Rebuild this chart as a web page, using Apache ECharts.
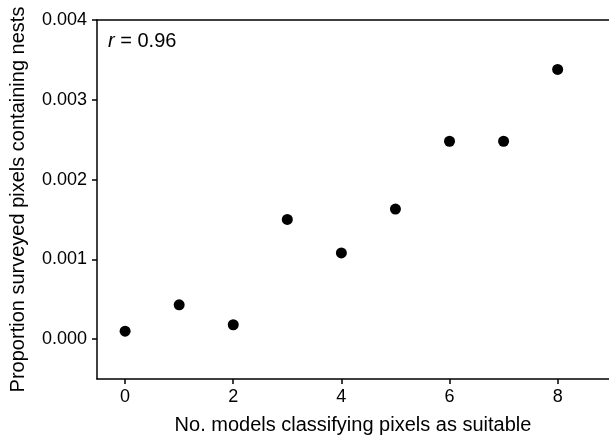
<!DOCTYPE html>
<html>
<head>
<meta charset="utf-8">
<title></title>
<script src="https://cdn.jsdelivr.net/npm/echarts@6/dist/echarts.min.js"></script>
<style>
  html, body { margin: 0; padding: 0; background: #fff; }
  #main { width: 609px; height: 440px; }
</style>
</head>
<body>
<div id="main"></div>
<script>
// number of models classifying pixel as suitable
var models = [0, 1, 2, 3, 4, 5, 6, 7, 8];
// proportion of surveyed pixels containing nests
var proportion = [0.0001, 0.00043, 0.00018, 0.0015, 0.00108, 0.00163, 0.00248, 0.00248, 0.00338];
var xTicks = [0, 2, 4, 6, 8];
var yTicks = [0, 0.001, 0.002, 0.003, 0.004];

var font = 'Liberation Sans';
var pts = models.map(function (m, i) { return [m, proportion[i]]; });

var myChart = echarts.init(document.getElementById('main'));
myChart.setOption({
  animation: false,
  backgroundColor: '#fff',
  grid: { left: 97, right: 0, top: 20, bottom: 60 },
  xAxis: [{
    type: 'value',
    min: -0.52,
    max: 8.95,
    name: 'No. models classifying pixels as suitable',
    nameLocation: 'middle',
    nameGap: 36,
    nameTextStyle: { fontFamily: font, fontSize: 20, color: '#000' },
    axisLine: { show: true, onZero: false, lineStyle: { color: '#000', width: 1.5 } },
    axisTick: { show: true, length: 5, customValues: xTicks, lineStyle: { color: '#000', width: 1.5 } },
    axisLabel: { customValues: xTicks, margin: 9, fontFamily: font, fontSize: 18, color: '#000' },
    splitLine: { show: false }
  }, {
    type: 'value',
    position: 'top',
    min: -0.52,
    max: 8.95,
    axisLine: { show: true, onZero: false, lineStyle: { color: '#000', width: 1.5 } },
    axisTick: { show: false },
    axisLabel: { show: false },
    splitLine: { show: false }
  }],
  yAxis: {
    type: 'value',
    min: -0.0005,
    max: 0.004,
    name: 'Proportion surveyed pixels containing nests',
    nameLocation: 'middle',
    nameRotate: 90,
    nameGap: 69,
    nameTextStyle: { fontFamily: font, fontSize: 20, color: '#000' },
    axisLine: { show: true, onZero: false, lineStyle: { color: '#000', width: 1.5 } },
    axisTick: { show: true, length: 5, customValues: yTicks, lineStyle: { color: '#000', width: 1.5 } },
    axisLabel: {
      customValues: yTicks,
      margin: 10,
      fontFamily: font,
      fontSize: 18,
      color: '#000',
      formatter: function (v) { return v.toFixed(3); }
    },
    splitLine: { show: false }
  },
  graphic: [{
    type: 'text',
    left: 108,
    top: 31,
    style: {
      text: '{i|r} = 0.96',
      font: '20px "Liberation Sans"',
      fill: '#000',
      rich: {
        i: { fontStyle: 'italic', fontFamily: font, fontSize: 20, fill: '#000' }
      }
    }
  }],
  series: [{
    type: 'scatter',
    data: pts,
    symbol: 'circle',
    symbolSize: 11,
    itemStyle: { color: '#000', opacity: 1 }
  }]
});
</script>
</body>
</html>
